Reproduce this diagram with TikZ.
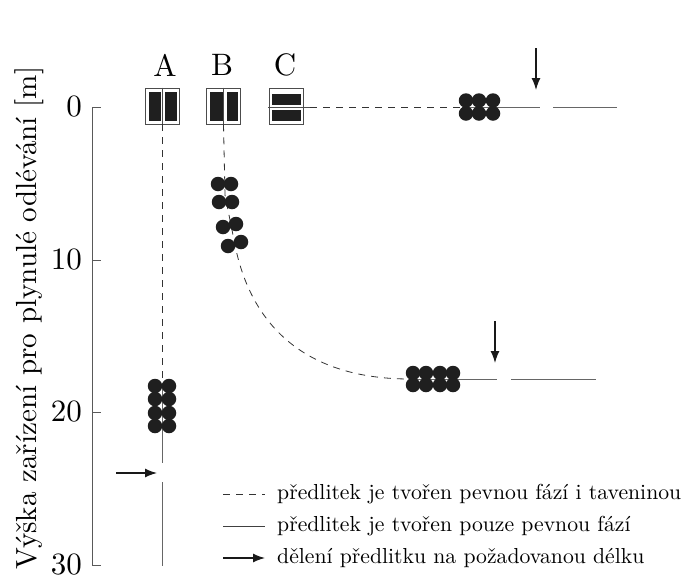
\documentclass[tikz,border=0pt]{standalone}
\usepackage{graphicx}
\usetikzlibrary{arrows.meta}
\newcommand{\bigtxt}[1]{\scalebox{3.1}{#1}}
\newcommand{\legtxt}[1]{\scalebox{2.17}{#1}}
\tikzset{
  big/.style={inner sep=0pt},
  leg/.style={inner sep=0pt, anchor=west},
  dot/.style={circle, fill=black!88, inner sep=0pt, minimum size=14.5pt},
  solidln/.style={draw=black!60, line width=0.9pt},
  dashln/.style={draw=black!80, line width=0.8pt, dash pattern=on 7pt off 6pt},
  cutarrow/.style={draw=black!90, -{Latex[length=12pt,width=9pt]}, line width=1.3pt},
  axisln/.style={draw=black!65, line width=0.7pt},
  frame/.style={draw=black!70, line width=0.6pt, fill=white, inner sep=0pt, minimum width=34pt, minimum height=36pt},
  blk/.style={fill=black!88},
}
\begin{document}
\begin{tikzpicture}[x=1pt,y=-1pt]
\useasboundingbox (0,0) rectangle (697,579);
% axis
\coordinate (ax0) at (92,107);
\coordinate (ax30) at (92,565);
\draw[axisln] (ax0) -- (ax30);
\foreach \v/\yy in {0/107,10/260,20/412,30/565}{
  \draw[axisln] (92,\yy) -- (101,\yy);
  \node[big, anchor=east] (t\v) at (82,\yy) {\bigtxt{\v}};
}
\node[inner sep=0pt, rotate=90] (ylab) at (29,318) {\scalebox{2.91}{Výška zařízení pro plynulé odlévání [m]}};
% column labels
\node[big] (lA) at (165,65) {\bigtxt{A}};
\node[big] (lB) at (222,65) {\bigtxt{B}};
\node[big] (lC) at (285,65) {\bigtxt{C}};
% boxes
\node[frame] (boxA) at (162,106) {};
\fill[blk] (148.5,92) rectangle (161,121);
\fill[blk] (165,92) rectangle (176.5,121);
\draw[draw=black!70, line width=0.5pt] (boxA.north) -- (boxA.south);
\node[frame] (boxB) at (223.5,106) {};
\fill[blk] (210,92) rectangle (222.5,121);
\fill[blk] (226.5,92) rectangle (238,121);
\draw[draw=black!70, line width=0.5pt] (boxB.north) -- (boxB.south);
\node[frame] (boxC) at (286,106.5) {};
\fill[blk] (271.5,94) rectangle (300.5,104.5);
\fill[blk] (271.5,109.5) rectangle (300.5,121);
% ---------- column A ----------
\coordinate (a0) at (162,383);
\coordinate (a1) at (162,463);
\coordinate (a2) at (162,482);
\coordinate (a3) at (162,566);
\draw[dashln] (boxA.south) -- (a0);
\draw[solidln] (a0) -- (a1);
\draw[solidln] (a2) -- (a3);
\foreach \yy [count=\i] in {386,399,413,426}{
  \node[dot] (dAl\i) at (155,\yy) {};
  \node[dot] (dAr\i) at (169,\yy) {};
}
\coordinate (arA0) at (116,473);
\coordinate (arA1) at (157,473);
\draw[cutarrow] (arA0) -- (arA1);
% ---------- column B ----------
\coordinate (b0) at (225,195);
\coordinate (b1) at (235,245);
\coordinate (b2) at (410,379);
\coordinate (b3) at (497,379);
\coordinate (b4) at (511,379);
\coordinate (b5) at (596,379);
\draw[dashln] (boxB.south) -- (b0) -- (b1) .. controls (252,330) and (310,379) .. (b2);
\draw[solidln] (b2) -- (b3);
\draw[solidln] (b4) -- (b5);
\node[dot] (dB1) at (218,184) {};
\node[dot] (dB2) at (231,184) {};
\node[dot] (dB3) at (219,202) {};
\node[dot] (dB4) at (232,202) {};
\node[dot] (dB5) at (223,227) {};
\node[dot] (dB6) at (236,224) {};
\node[dot] (dB7) at (228,246) {};
\node[dot] (dB8) at (241,242) {};
\foreach \xx [count=\i] in {413,426,440,453}{
  \node[dot] (dBt\i) at (\xx,373) {};
  \node[dot] (dBb\i) at (\xx,385) {};
}
\coordinate (arB0) at (495,321);
\coordinate (arB1) at (495,363);
\draw[cutarrow] (arB0) -- (arB1);
% ---------- column C ----------
\coordinate (c0) at (268,107);
\coordinate (c1) at (310,107);
\coordinate (c2) at (462,107);
\coordinate (c3) at (540,107);
\coordinate (c4) at (553,107);
\coordinate (c5) at (617,107);
\draw[draw=black!70, line width=0.6pt] (c0) -- (c1);
\draw[dashln] (c1) -- (c2);
\draw[solidln] (c2) -- (c3);
\draw[solidln] (c4) -- (c5);
\foreach \xx [count=\i] in {466,479,493}{
  \node[dot] (dCt\i) at (\xx,100.5) {};
  \node[dot] (dCb\i) at (\xx,113.5) {};
}
\coordinate (arC0) at (536,48);
\coordinate (arC1) at (536,90);
\draw[cutarrow] (arC0) -- (arC1);
% ---------- legend ----------
\coordinate (l1a) at (223,494);
\coordinate (l1b) at (265,494);
\coordinate (l2a) at (223,526);
\coordinate (l2b) at (265,526);
\coordinate (l3a) at (223,558);
\coordinate (l3b) at (265,558);
\draw[dashln] (l1a) -- (l1b);
\draw[draw=black!75, line width=0.8pt] (l2a) -- (l2b);
\draw[cutarrow] (l3a) -- (l3b);
\node[leg] (tx1) at (277,494) {\legtxt{předlitek je tvořen pevnou fází i taveninou}};
\node[leg] (tx2) at (277,526) {\legtxt{předlitek je tvořen pouze pevnou fází}};
\node[leg] (tx3) at (277,558) {\legtxt{dělení předlitku na požadovanou délku}};
\end{tikzpicture}
\end{document}
